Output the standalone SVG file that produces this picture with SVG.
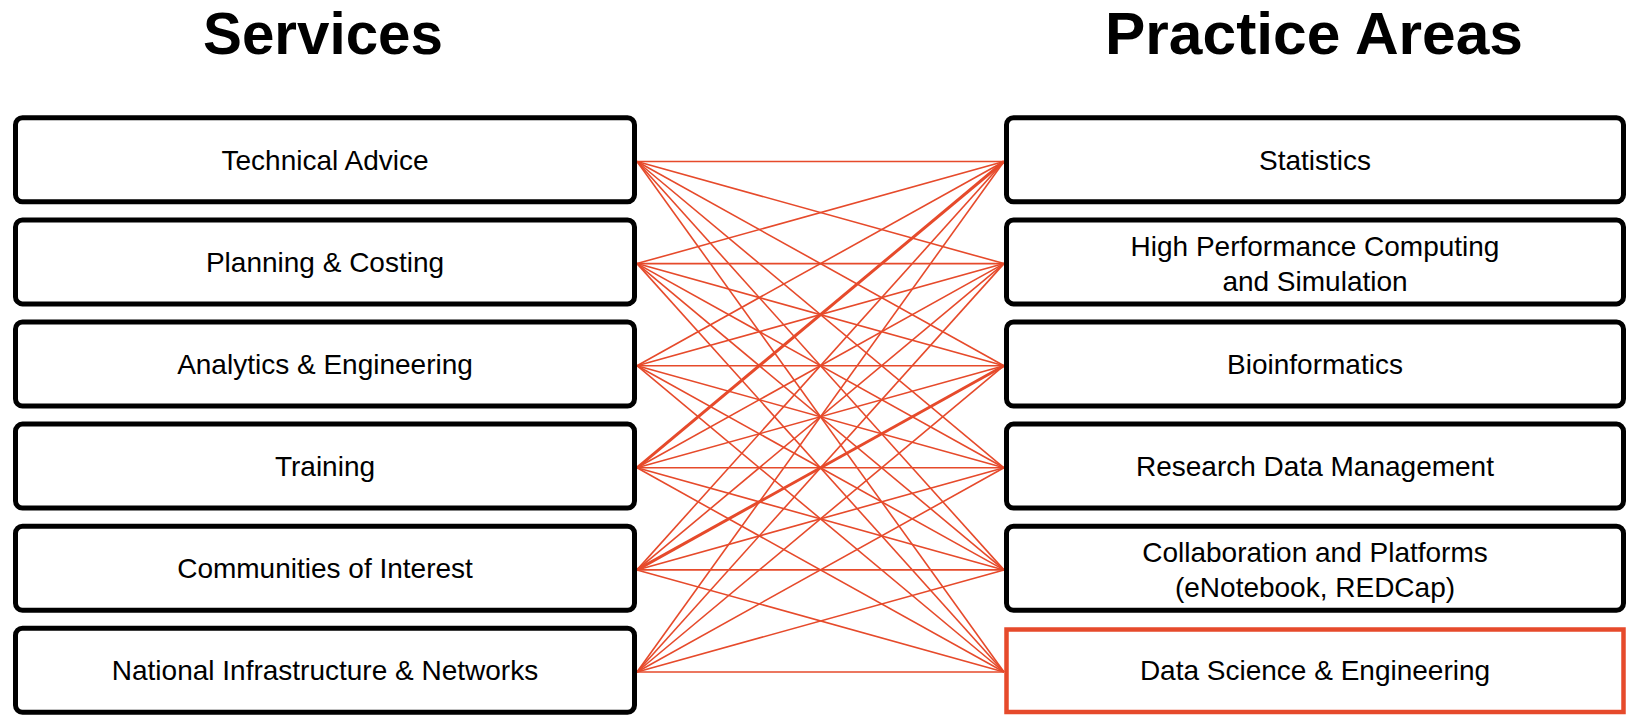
<svg xmlns="http://www.w3.org/2000/svg" width="1628" height="715" viewBox="0 0 1628 715">
<style>
.title{font-family:"Liberation Sans",Arial,sans-serif;font-weight:bold;font-size:60px;fill:#000;text-anchor:middle}
.box{fill:#fff;stroke:#000;stroke-width:5}
.hl{fill:#fff;stroke:#E64A2B;stroke-width:4.5}
.lbl{font-family:"Liberation Sans",Arial,sans-serif;font-size:28px;fill:#000;text-anchor:middle}
.c line{stroke:#E64A2B;stroke-width:1.6}
.c line.thick{stroke-width:3}
</style>
<rect width="1628" height="715" fill="#fff"/>
<text class="title" x="323" y="54" textLength="240" lengthAdjust="spacingAndGlyphs">Services</text>
<text class="title" x="1314" y="54" textLength="418" lengthAdjust="spacingAndGlyphs">Practice Areas</text>

<g class="c" id="connectors">
<line x1="637" y1="161.5" x2="1004" y2="161.5"/>
<line x1="637" y1="161.5" x2="1004" y2="263.6"/>
<line x1="637" y1="161.5" x2="1004" y2="365.7"/>
<line x1="637" y1="161.5" x2="1004" y2="467.8"/>
<line x1="637" y1="161.5" x2="1004" y2="569.9"/>
<line x1="637" y1="161.5" x2="1004" y2="672"/>
<line x1="637" y1="263.6" x2="1004" y2="161.5"/>
<line x1="637" y1="263.6" x2="1004" y2="263.6"/>
<line x1="637" y1="263.6" x2="1004" y2="365.7"/>
<line x1="637" y1="263.6" x2="1004" y2="467.8"/>
<line x1="637" y1="263.6" x2="1004" y2="569.9"/>
<line x1="637" y1="263.6" x2="1004" y2="672"/>
<line x1="637" y1="365.7" x2="1004" y2="161.5"/>
<line x1="637" y1="365.7" x2="1004" y2="263.6"/>
<line x1="637" y1="365.7" x2="1004" y2="365.7"/>
<line x1="637" y1="365.7" x2="1004" y2="467.8"/>
<line x1="637" y1="365.7" x2="1004" y2="569.9"/>
<line x1="637" y1="365.7" x2="1004" y2="672"/>
<line class="thick" x1="637" y1="467.8" x2="1004" y2="161.5"/>
<line x1="637" y1="467.8" x2="1004" y2="263.6"/>
<line x1="637" y1="467.8" x2="1004" y2="365.7"/>
<line x1="637" y1="467.8" x2="1004" y2="467.8"/>
<line x1="637" y1="467.8" x2="1004" y2="569.9"/>
<line x1="637" y1="467.8" x2="1004" y2="672"/>
<line x1="637" y1="569.9" x2="1004" y2="161.5"/>
<line x1="637" y1="569.9" x2="1004" y2="263.6"/>
<line class="thick" x1="637" y1="569.9" x2="1004" y2="365.7"/>
<line x1="637" y1="569.9" x2="1004" y2="467.8"/>
<line x1="637" y1="569.9" x2="1004" y2="569.9"/>
<line x1="637" y1="569.9" x2="1004" y2="672"/>
<line x1="637" y1="672" x2="1004" y2="161.5"/>
<line x1="637" y1="672" x2="1004" y2="263.6"/>
<line x1="637" y1="672" x2="1004" y2="365.7"/>
<line x1="637" y1="672" x2="1004" y2="467.8"/>
<line x1="637" y1="672" x2="1004" y2="569.9"/>
<line x1="637" y1="672" x2="1004" y2="672"/>
</g>

<g id="s-technical-advice"><rect class="box" x="15.5" y="117.8" width="619" height="84" rx="7"/><text class="lbl" x="325" y="170">Technical Advice</text></g>
<g id="s-planning-costing"><rect class="box" x="15.5" y="219.9" width="619" height="84" rx="7"/><text class="lbl" x="325" y="272">Planning &amp; Costing</text></g>
<g id="s-analytics-engineering"><rect class="box" x="15.5" y="322" width="619" height="84" rx="7"/><text class="lbl" x="325" y="374">Analytics &amp; Engineering</text></g>
<g id="s-training"><rect class="box" x="15.5" y="424.1" width="619" height="84" rx="7"/><text class="lbl" x="325" y="476">Training</text></g>
<g id="s-communities"><rect class="box" x="15.5" y="526.2" width="619" height="84" rx="7"/><text class="lbl" x="325" y="578">Communities of Interest</text></g>
<g id="s-national-infra"><rect class="box" x="15.5" y="628.3" width="619" height="84" rx="7"/><text class="lbl" x="325" y="680">National Infrastructure &amp; Networks</text></g>

<g id="p-statistics"><rect class="box" x="1006.5" y="117.8" width="617" height="84" rx="7"/><text class="lbl" x="1315" y="170">Statistics</text></g>
<g id="p-hpc"><rect class="box" x="1006.5" y="219.9" width="617" height="84" rx="7"/><text class="lbl" x="1315" y="256">High Performance Computing</text><text class="lbl" x="1315" y="291">and Simulation</text></g>
<g id="p-bioinformatics"><rect class="box" x="1006.5" y="322" width="617" height="84" rx="7"/><text class="lbl" x="1315" y="374">Bioinformatics</text></g>
<g id="p-rdm"><rect class="box" x="1006.5" y="424.1" width="617" height="84" rx="7"/><text class="lbl" x="1315" y="476">Research Data Management</text></g>
<g id="p-collab"><rect class="box" x="1006.5" y="526.2" width="617" height="84" rx="7"/><text class="lbl" x="1315" y="562">Collaboration and Platforms</text><text class="lbl" x="1315" y="597">(eNotebook, REDCap)</text></g>
<g id="p-data-science"><rect class="hl" x="1006.5" y="629.5" width="617" height="82.5"/><text class="lbl" x="1315" y="680">Data Science &amp; Engineering</text></g>
</svg>
